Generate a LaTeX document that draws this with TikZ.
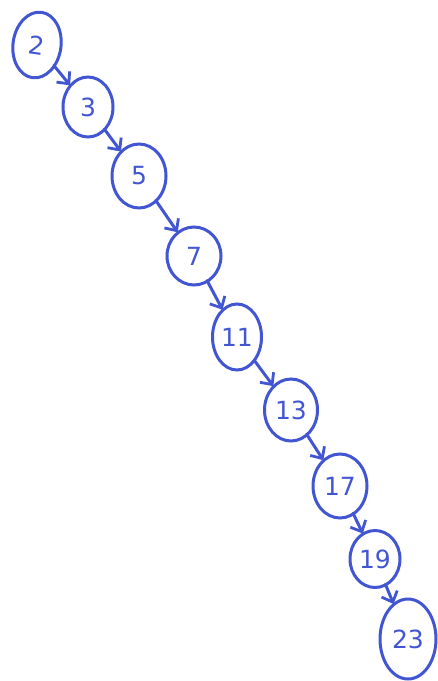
\documentclass[tikz,border=0pt]{standalone}
\usepackage{fontspec}
\setmainfont{DejaVu Sans}
\usetikzlibrary{shapes.geometric,arrows.meta}
\definecolor{pen}{RGB}{66,86,210}
\begin{document}
\begin{tikzpicture}[x=1pt,y=-1pt,
  numnode/.style={ellipse,draw=pen,line width=3pt,inner sep=0pt,text=pen,
    font=\fontsize{25}{25}\selectfont},
  link/.style={draw=pen,line width=3pt,line cap=round,
    -{Straight Barb[length=9pt,width=17pt,line width=2.8pt]},shorten <=-2pt,shorten >=-1pt}]
\useasboundingbox[fill=white] (0,0) rectangle (438,681);
\node[numnode,minimum width=48pt,minimum height=66pt,rotate=-8] (n2) at (37,45) {2};
\node[numnode,minimum width=50pt,minimum height=60pt] (n3) at (88,107) {3};
\node[numnode,minimum width=54pt,minimum height=64pt] (n5) at (139,176) {5};
\node[numnode,minimum width=54pt,minimum height=58pt] (n7) at (194,256) {7};
\node[numnode,minimum width=49pt,minimum height=66pt] (n11) at (237,337) {11};
\node[numnode,minimum width=53pt,minimum height=62pt] (n13) at (291,410) {13};
\node[numnode,minimum width=54pt,minimum height=64pt] (n17) at (340,486) {17};
\node[numnode,minimum width=50pt,minimum height=57pt] (n19) at (375,559) {19};
\node[numnode,minimum width=56pt,minimum height=80pt] (n23) at (408,639) {23};
\draw[link] (n2) -- (n3);
\draw[link] (n3) -- (n5);
\draw[link] (n5) -- (n7);
\draw[link] (n7) -- (n11);
\draw[link] (n11) -- (n13);
\draw[link] (n13) -- (n17);
\draw[link] (n17) -- (n19);
\draw[link] (n19) -- (n23);
\end{tikzpicture}
\end{document}
